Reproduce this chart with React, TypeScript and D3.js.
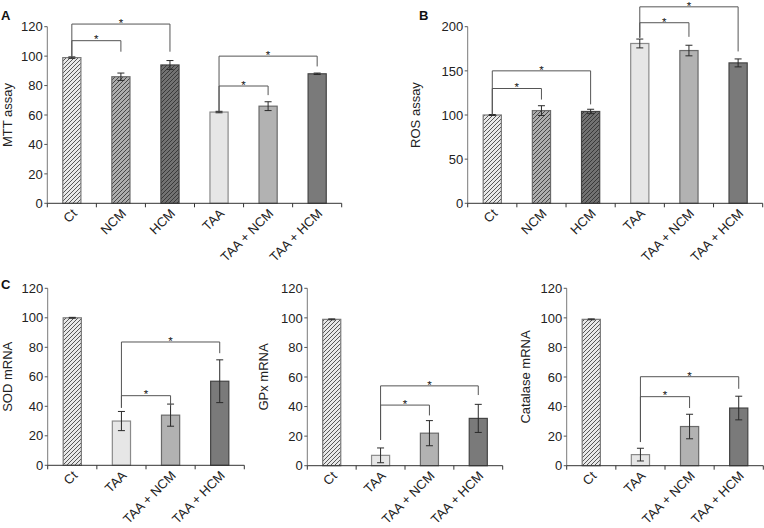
import React from "react";
import * as d3 from "d3";

// ---------- data ----------
const groupsTop = ["Ct", "NCM", "HCM", "TAA", "TAA + NCM", "TAA + HCM"];
const groupsBottom = ["Ct", "TAA", "TAA + NCM", "TAA + HCM"];

const mttValues = [99, 86, 94, 62, 66, 88];
const mttErrors = [0.5, 2.5, 3, 0.5, 3, 0.5];
const rosValues = [100, 105, 104, 181, 173, 159];
const rosErrors = [0.5, 5.5, 2.5, 5, 6, 4.5];
const sodValues = [100, 30, 34, 57];
const sodErrors = [0.3, 6.5, 7.5, 14.5];
const gpxValues = [99, 7, 22, 32];
const gpxErrors = [0.3, 5, 8.5, 9.5];
const catValues = [99, 7.5, 26.5, 39];
const catErrors = [0.3, 4.3, 8.3, 8];

const mttTicks = [0, 20, 40, 60, 80, 100, 120];
const rosTicks = [0, 50, 100, 150, 200];
const mrnaTicks = [0, 20, 40, 60, 80, 100, 120];

// significance brackets: [fromIndex, toIndex, bracketLevel, startLevel, endLevel]
const mttSig = [
  [0, 1, 110.5, 99.5, 103],
  [0, 2, 121.8, 99.5, 103],
  [3, 4, 79.7, 62.5, 73.5],
  [3, 5, 100, 62.5, 93],
];
const rosSig = [
  [0, 1, 130, 100.5, 117.5],
  [0, 2, 150, 100.5, 112],
  [3, 4, 204.5, 187.5, 188.5],
  [3, 5, 222.5, 187.5, 172],
];
const sodSig = [
  [1, 2, 47.2, 39, 40],
  [1, 3, 83.6, 39, 76],
];
const gpxSig = [
  [1, 2, 41, 17.4, 34],
  [1, 3, 54, 17.4, 47.8],
];
const catSig = [
  [1, 2, 46.7, 16, 39],
  [1, 3, 60.2, 16, 52],
];

// ---------- styles ----------
const FONT = "'Liberation Sans', Arial, sans-serif";
const fillFor: Record<string, string> = {
  Ct: "url(#hatchLight)",
  NCM: "url(#hatchMid)",
  HCM: "url(#hatchDark)",
  TAA: "#e6e6e6",
  "TAA + NCM": "#b2b2b2",
  "TAA + HCM": "#7a7a7a",
};
const strokeFor: Record<string, string> = {
  Ct: "#7a7a7a",
  NCM: "#6a6a6a",
  HCM: "#444",
  TAA: "#8a8a8a",
  "TAA + NCM": "#6a6a6a",
  "TAA + HCM": "#444",
};

type PanelProps = {
  groups: string[];
  values: number[];
  errors: number[];
  ticks: number[];
  sig: number[][];
  x0: number;
  x1: number;
  yTop: number;
  yBottom: number;
  yMax: number;
  label: string;
  labelX: number;
};

function Panel(p: PanelProps) {
  const x = d3.scaleBand<string>().domain(p.groups).range([p.x0, p.x1]).padding(0);
  const y = d3.scaleLinear().domain([0, p.yMax]).range([p.yBottom, p.yTop]);
  const bw = x.bandwidth() * 0.37;
  const cx = (g: string) => (x(g) as number) + x.bandwidth() / 2;
  const boundaries = p.groups.map((g) => x(g) as number).concat([p.x1]);
  const midY = (p.yTop + p.yBottom) / 2;
  return (
    <g fontFamily={FONT}>
      {/* bars */}
      {p.groups.map((g, i) => (
        <rect
          key={"b" + i}
          x={cx(g) - bw / 2}
          y={y(p.values[i])}
          width={bw}
          height={p.yBottom - y(p.values[i])}
          fill={fillFor[g]}
          stroke={strokeFor[g]}
          strokeWidth={1.2}
        />
      ))}
      {/* error bars */}
      {p.groups.map((g, i) => {
        const c = cx(g);
        const t = y(p.values[i] + p.errors[i]);
        const b = y(p.values[i] - p.errors[i]);
        return (
          <g key={"e" + i} stroke="#2a2a2a" strokeWidth={1}>
            <line x1={c} x2={c} y1={t} y2={b} />
            <line x1={c - 3.5} x2={c + 3.5} y1={t} y2={t} />
            <line x1={c - 3.5} x2={c + 3.5} y1={b} y2={b} />
          </g>
        );
      })}
      {/* y axis */}
      <line x1={p.x0} x2={p.x0} y1={p.yTop} y2={p.yBottom} stroke="#7a7a7a" strokeWidth={1} />
      {p.ticks.map((t) => (
        <g key={"yt" + t}>
          <line x1={p.x0 - 3} x2={p.x0} y1={y(t)} y2={y(t)} stroke="#555" strokeWidth={1} />
          <text
            x={p.x0 - 4.5}
            y={y(t)}
            dy="0.36em"
            textAnchor="end"
            fontSize={13}
            fill="#222"
          >
            {t}
          </text>
        </g>
      ))}
      {/* x axis */}
      <line x1={p.x0} x2={p.x1} y1={p.yBottom} y2={p.yBottom} stroke="#333" strokeWidth={1} />
      {boundaries.map((bx, i) => (
        <line key={"xt" + i} x1={bx} x2={bx} y1={p.yBottom} y2={p.yBottom + 4} stroke="#333" strokeWidth={1} />
      ))}
      {p.groups.map((g, i) => (
        <text
          key={"xl" + i}
          transform={`translate(${cx(g) + 6},${p.yBottom + 11}) rotate(-45)`}
          textAnchor="end"
          fontSize={13}
          fill="#222"
        >
          {g}
        </text>
      ))}
      {/* y label */}
      <text
        transform={`translate(${p.labelX},${midY}) rotate(-90)`}
        textAnchor="middle"
        fontSize={13}
        fill="#222"
      >
        {p.label}
      </text>
      {/* significance */}
      {p.sig.map((s, i) => {
        const a = cx(p.groups[s[0]]);
        const b = cx(p.groups[s[1]]);
        const ly = y(s[2]);
        return (
          <g key={"s" + i}>
            <path
              d={`M${a},${y(s[3])}V${ly}H${b}V${y(s[4])}`}
              fill="none"
              stroke="#555"
              strokeWidth={1}
            />
            <text x={(a + b) / 2} y={ly + 2.8} textAnchor="middle" fontSize={11.5} fill="#111">
              *
            </text>
          </g>
        );
      })}
    </g>
  );
}

function Hatch({ id, bg }: { id: string; bg: string }) {
  return (
    <pattern id={id} patternUnits="userSpaceOnUse" width={4} height={4}>
      <rect width={4} height={4} fill={bg} />
      <path d="M-1,1 l2,-2 M0,4 l4,-4 M3,5 l2,-2" stroke="#262626" strokeWidth={0.75} />
    </pattern>
  );
}

export default function App() {
  return (
    <svg
      width={764}
      height={528}
      style={{ position: "absolute", left: 0, top: 0, background: "#fff" }}
    >
      <defs>
        <Hatch id="hatchLight" bg="#e8e8e8" />
        <Hatch id="hatchMid" bg="#adadad" />
        <Hatch id="hatchDark" bg="#727272" />
      </defs>
      <rect width={764} height={528} fill="#fff" />
      <g fontFamily={FONT} fontWeight="bold" fontSize={13} fill="#111">
        <text x={1} y={20}>A</text>
        <text x={419} y={20}>B</text>
        <text x={1} y={289}>C</text>
      </g>
      <Panel groups={groupsTop} values={mttValues} errors={mttErrors} ticks={mttTicks} sig={mttSig}
        x0={47.3} x1={341.7} yTop={26.7} yBottom={203.3} yMax={120} label="MTT assay" labelX={11.5} />
      <Panel groups={groupsTop} values={rosValues} errors={rosErrors} ticks={rosTicks} sig={rosSig}
        x0={467.7} x1={762.7} yTop={26.7} yBottom={203.3} yMax={200} label="ROS assay" labelX={420} />
      <Panel groups={groupsBottom} values={sodValues} errors={sodErrors} ticks={mrnaTicks} sig={sodSig}
        x0={47.7} x1={244.3} yTop={288.3} yBottom={465.3} yMax={120} label="SOD mRNA" labelX={11.5} />
      <Panel groups={groupsBottom} values={gpxValues} errors={gpxErrors} ticks={mrnaTicks} sig={gpxSig}
        x0={307.3} x1={502.7} yTop={288.3} yBottom={465.7} yMax={120} label="GPx mRNA" labelX={268} />
      <Panel groups={groupsBottom} values={catValues} errors={catErrors} ticks={mrnaTicks} sig={catSig}
        x0={566.7} x1={763.3} yTop={288.3} yBottom={465.7} yMax={120} label="Catalase mRNA" labelX={530} />
    </svg>
  );
}
